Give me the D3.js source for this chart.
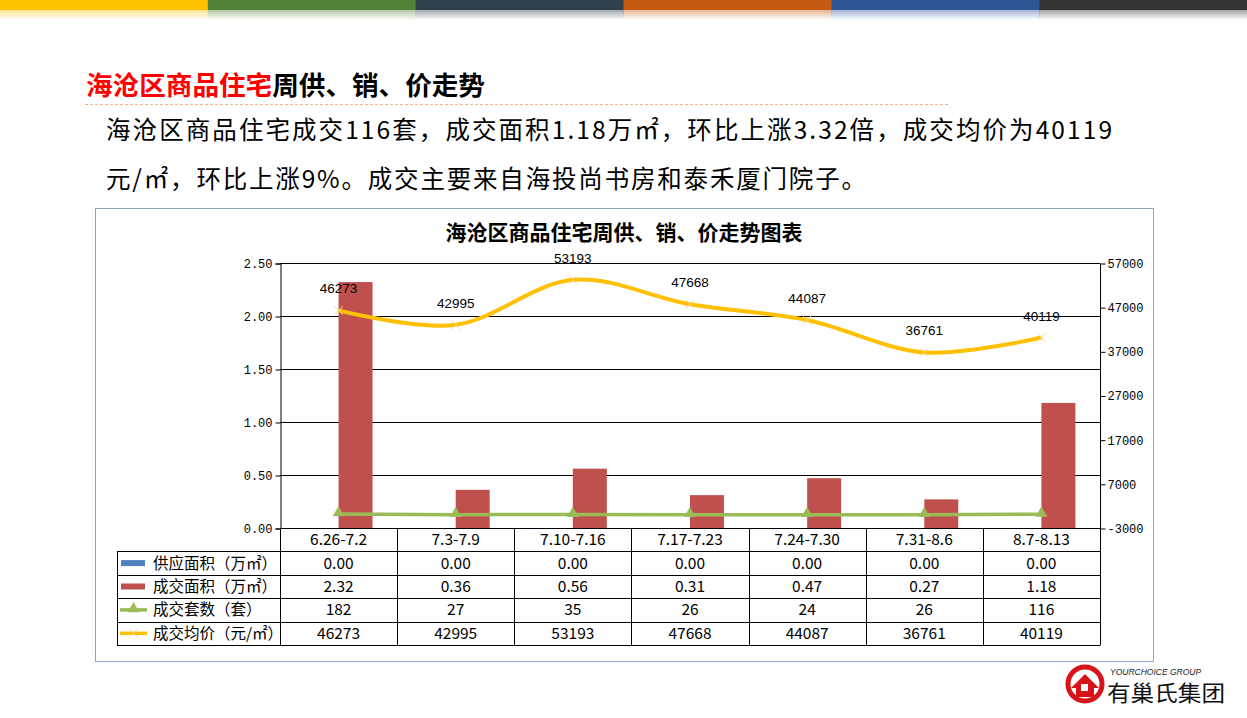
<!DOCTYPE html>
<html><head><meta charset="utf-8">
<script src="https://cdn.jsdelivr.net/npm/d3@7/dist/d3.min.js"></script>
<style>body{margin:0;background:#fff;}svg{display:block;}</style>
</head><body>
<svg id="c" width="1247" height="718"></svg>
<script>
const categories = ["6.26-7.2","7.3-7.9","7.10-7.16","7.17-7.23","7.24-7.30","7.31-8.6","8.7-8.13"];
const supplyArea = [0,0,0,0,0,0,0];
const dealArea = [2.32,0.36,0.56,0.31,0.47,0.27,1.18];
const dealUnits = [182,27,35,26,24,26,116];
const avgPrice = [46273,42995,53193,47668,44087,36761,40119];
const leftTicks = [0,0.5,1,1.5,2,2.5];
const rightTicks = [-3000,7000,17000,27000,37000,47000,57000];
const seriesNames = ["供应面积（万㎡）","成交面积（万㎡）","成交套数（套）","成交均价（元/㎡）"];
const stripeColors = ["#FFC000","#538135","#323F4F","#C55A11","#2F5597","#333333"];

const svg = d3.select("#c");
const defs = svg.append("defs");
const CJK = "'Noto Sans CJK SC', 'Noto Sans', sans-serif";

// top stripes
const sw = 1247/stripeColors.length;
stripeColors.forEach((c,i)=>{
  const g = defs.append("linearGradient").attr("id","g"+i).attr("x1",0).attr("y1",0).attr("x2",0).attr("y2",1);
  g.append("stop").attr("offset","0").attr("stop-color",c).attr("stop-opacity",0.45);
  g.append("stop").attr("offset","1").attr("stop-color",c).attr("stop-opacity",0);
  svg.append("rect").attr("x",i*sw).attr("y",0).attr("width",sw+0.5).attr("height",10).attr("fill",c);
  svg.append("rect").attr("x",i*sw).attr("y",10).attr("width",sw+0.5).attr("height",10).attr("fill","url(#g"+i+")");
});

// heading
const h = svg.append("text").attr("x",86).attr("y",95).attr("font-family",CJK).attr("font-weight","bold").attr("font-size",26)
  .attr("textLength",399).attr("lengthAdjust","spacingAndGlyphs");
h.append("tspan").attr("fill","#FF0000").text("海沧区商品住宅");
h.append("tspan").attr("fill","#000").text("周供、销、价走势");
svg.append("line").attr("x1",85).attr("x2",948).attr("y1",104.5).attr("y2",104.5)
  .attr("stroke","#F4B183").attr("stroke-dasharray","3,2").attr("stroke-width",1);

// paragraph
svg.append("text").attr("x",106).attr("y",139).attr("font-family",CJK).attr("font-size",24.5).attr("fill","#000")
  .attr("textLength",1006).attr("lengthAdjust","spacing")
  .text("海沧区商品住宅成交116套，成交面积1.18万㎡，环比上涨3.32倍，成交均价为40119");
svg.append("text").attr("x",106).attr("y",188).attr("font-family",CJK).attr("font-size",24.5).attr("fill","#000")
  .attr("textLength",760).attr("lengthAdjust","spacing")
  .text("元/㎡，环比上涨9%。成交主要来自海投尚书房和泰禾厦门院子。");

// chart frame
svg.append("rect").attr("x",95.5).attr("y",208.5).attr("width",1058).attr("height",453)
  .attr("fill","#fff").attr("stroke","#8FA8C8").attr("stroke-width",1);
svg.append("text").attr("x",624).attr("y",240).attr("text-anchor","middle").attr("font-family",CJK)
  .attr("font-weight","bold").attr("font-size",21).attr("fill","#000").text("海沧区商品住宅周供、销、价走势图表");

const L = 280, R = 1100, T = 263, B = 528;
const x = d3.scaleBand().domain(categories).range([L,R]);
const yL = d3.scaleLinear().domain([0,2.5]).range([B,T]);
const yR = d3.scaleLinear().domain([-3000,57000]).range([B,T]);
const bw = x.bandwidth()*0.29;
const cx = c => x(c)+x.bandwidth()/2;

// gridlines
svg.append("g").selectAll("line").data(leftTicks).join("line")
  .attr("x1",L).attr("x2",R).attr("y1",d=>Math.round(yL(d))+0.5).attr("y2",d=>Math.round(yL(d))+0.5)
  .attr("stroke","#000").attr("stroke-width",1);

// axes
const mono = "'Liberation Mono','DejaVu Sans Mono',monospace";
const axL = svg.append("g").attr("transform",`translate(${L+0.5},0.5)`)
  .call(d3.axisLeft(yL).tickValues(leftTicks).tickFormat(d3.format(".2f")).tickSizeOuter(0).tickSize(5));
const axR = svg.append("g").attr("transform",`translate(${R+0.5},0.5)`)
  .call(d3.axisRight(yR).tickValues(rightTicks).tickFormat(d=>String(d)).tickSizeOuter(0).tickSize(5));
[axL,axR].forEach(a=>{
  a.selectAll("text").attr("font-family",mono).attr("font-size",12).attr("fill","#000");
  a.selectAll("line,path").attr("stroke","#000");
});
axL.selectAll("text").attr("x",-8);
axR.selectAll("text").attr("x",7);
axR.select("path").attr("d",`M0,${T}V${B+12}`);

// bars
svg.append("g").selectAll("rect.s").data(categories).join("rect")
  .attr("x",c=>cx(c)-bw).attr("width",bw).attr("y",(c,i)=>yL(supplyArea[i]))
  .attr("height",(c,i)=>B-yL(supplyArea[i])).attr("fill","#4F81BD");
svg.append("g").selectAll("rect.d").data(categories).join("rect")
  .attr("x",c=>cx(c)).attr("width",bw).attr("y",(c,i)=>yL(dealArea[i]))
  .attr("height",(c,i)=>B-yL(dealArea[i])).attr("fill","#C0504D");

// units line (right axis)
const unitsPts = categories.map((c,i)=>[cx(c),yR(dealUnits[i])]);
svg.append("path").attr("d",d3.line()(unitsPts)).attr("fill","none").attr("stroke","#9BBB59").attr("stroke-width",3.5);
const tri = d3.symbol().type(d3.symbolTriangle).size(60);
svg.append("g").selectAll("path").data(unitsPts).join("path")
  .attr("transform",d=>`translate(${d[0]},${d[1]-1})`).attr("d",tri()).attr("fill","#9BBB59");

// price line
const pricePts = categories.map((c,i)=>[cx(c),yR(avgPrice[i])]);
svg.append("path").attr("d",d3.line().curve(d3.curveCardinal.tension(0))(pricePts))
  .attr("fill","none").attr("stroke","#FFC000").attr("stroke-width",4);
const xm = d3.symbol().type(d3.symbolX).size(50);
svg.append("g").selectAll("path").data(pricePts).join("path")
  .attr("transform",d=>`translate(${d[0]},${d[1]})`).attr("d",xm()).attr("fill","none")
  .attr("stroke","#F9D78A").attr("stroke-width",1);
svg.append("g").selectAll("text").data(categories).join("text")
  .attr("x",c=>cx(c)).attr("y",(c,i)=>yR(avgPrice[i])-17).attr("text-anchor","middle")
  .attr("font-family","'Liberation Sans',Arial,sans-serif").attr("font-size",13.5).attr("fill","#000")
  .text((c,i)=>avgPrice[i]);

// data table
const rowH = 23.4, tTop = B;
const rows = [supplyArea.map(d=>d.toFixed(2)), dealArea.map(d=>d.toFixed(2)), dealUnits.map(String), avgPrice.map(String)];
const tb = svg.append("g").attr("font-family",CJK).attr("font-size",15.5).attr("fill","#000");
categories.forEach(c=>{
  tb.append("text").attr("x",cx(c)).attr("y",tTop+rowH/2+5.5).attr("text-anchor","middle").text(c);
});
rows.forEach((r,ri)=>{
  const yc = tTop+rowH*(ri+1)+rowH/2;
  r.forEach((v,ci)=>{
    tb.append("text").attr("x",cx(categories[ci])).attr("y",yc+5.5).attr("text-anchor","middle").text(v);
  });
  tb.append("text").attr("x",153).attr("y",yc+5.5).text(seriesNames[ri]);
});
const lg = svg.append("g");
[0,1].forEach(ri=>{
  const yc = tTop+rowH*(ri+1)+rowH/2;
  lg.append("rect").attr("x",121).attr("y",yc-3).attr("width",24).attr("height",6).attr("fill",ri===0?"#4F81BD":"#C0504D");
});
{
  const yc = tTop+rowH*3+rowH/2;
  lg.append("line").attr("x1",120).attr("x2",147).attr("y1",yc).attr("y2",yc).attr("stroke","#9BBB59").attr("stroke-width",3.5);
  lg.append("path").attr("transform",`translate(133.5,${yc-1})`).attr("d",tri()).attr("fill","#9BBB59");
  const yc2 = tTop+rowH*4+rowH/2;
  lg.append("line").attr("x1",120).attr("x2",147).attr("y1",yc2).attr("y2",yc2).attr("stroke","#FFC000").attr("stroke-width",3.5);
  lg.append("path").attr("transform",`translate(133.5,${yc2})`).attr("d",xm()).attr("stroke","#F9D78A").attr("fill","none");
}
// table lines
const tl = svg.append("g").attr("stroke","#000").attr("stroke-width",1);
const tBot = tTop+rowH*5;
for(let k=0;k<=5;k++){
  const yy = Math.round(tTop+rowH*k)+0.5;
  tl.append("line").attr("x1",k===0?L:117).attr("x2",R).attr("y1",yy).attr("y2",yy);
}
tl.append("line").attr("x1",117.5).attr("x2",117.5).attr("y1",Math.round(tTop+rowH)+0.5).attr("y2",Math.round(tBot)+0.5);
categories.concat([null]).forEach((c,i)=>{
  const xx = Math.round(c?x(c):R)+0.5;
  tl.append("line").attr("x1",xx).attr("x2",xx).attr("y1",tTop).attr("y2",Math.round(tBot)+0.5);
});

// logo
const lo = svg.append("g");
lo.append("circle").attr("cx",1085).attr("cy",684).attr("r",17).attr("fill","none").attr("stroke","#D7141A").attr("stroke-width",5);
lo.append("path").attr("d","M1071,688 L1085,674 L1099,688 L1094,688 L1094,697 L1076,697 L1076,688 Z").attr("fill","#D7141A");
lo.append("rect").attr("x",1081).attr("y",684).attr("width",7).attr("height",7).attr("fill","#fff");
lo.append("text").attr("x",1110).attr("y",675).attr("font-family","'Liberation Sans',Arial,sans-serif").attr("font-style","italic")
  .attr("font-size",8.5).attr("fill","#222").text("YOURCHOICE GROUP");
lo.append("text").attr("x",1107).attr("y",701).attr("font-family",CJK).attr("font-size",22).attr("fill","#111")
  .attr("textLength",118).attr("lengthAdjust","spacingAndGlyphs").text("有巢氏集团");
</script>
</body></html>
